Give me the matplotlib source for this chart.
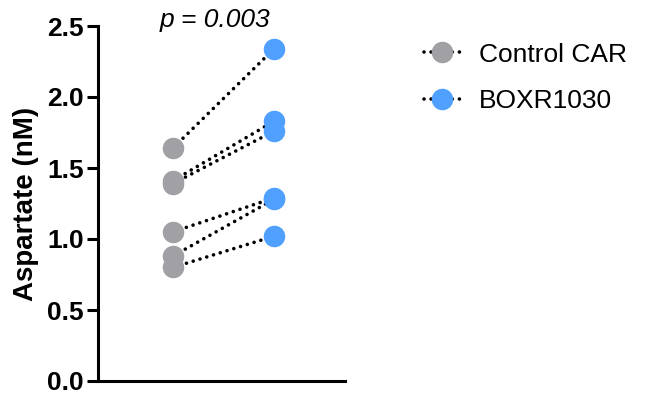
import matplotlib
matplotlib.use("Agg")
import matplotlib.pyplot as plt
from matplotlib.lines import Line2D

plt.rcParams['font.family'] = ['Liberation Sans', 'DejaVu Sans']

groups = ["Control CAR", "BOXR1030"]
control = [1.64, 1.41, 1.39, 1.05, 0.88, 0.80]
boxr = [2.34, 1.83, 1.76, 1.29, 1.28, 1.02]
y_ticks = [0.0, 0.5, 1.0, 1.5, 2.0, 2.5]
p_text = "p = 0.003"

gray = "#A0A0A5"
blue = "#4FA0FF"
dots = (0, (0.01, 1.95))

fig = plt.figure(figsize=(6.49, 3.96), dpi=100)
ax = fig.add_axes([98 / 649, 1 - 381 / 396, (345 - 98) / 649, (381 - 26) / 396])

for c, b in zip(control, boxr):
    ax.plot([0, 1], [c, b], color="black", lw=2.6, linestyle=dots,
            dash_capstyle="round", zorder=1)

ax.plot([0] * len(control), control, "o", ms=15.5, color=gray, mec="none", zorder=3)
ax.plot([1] * len(boxr), boxr, "o", ms=15.5, color=blue, mec="none", zorder=3)

ax.set_xlim(-0.74, 1.70)
ax.set_ylim(0, 2.5)
ax.set_yticks(y_ticks)
ax.set_yticklabels([f"{v:.1f}" for v in y_ticks], fontsize=19, fontweight="bold")
ax.set_xticks([])
ax.tick_params(axis="y", length=8, width=2.2, pad=2)
for s in ["top", "right"]:
    ax.spines[s].set_visible(False)
for s in ["left", "bottom"]:
    ax.spines[s].set_linewidth(2.2)
ax.set_ylabel("Aspartate (nM)", fontsize=20, fontweight="bold", labelpad=6)

fig.text(215 / 649, 1 - 20 / 396, p_text, fontsize=19, style="italic",
         ha="center", va="center")

handles = [
    Line2D([0], [0], marker="o", ms=15.5, color="black", mfc=gray, mec="none",
           lw=2.6, linestyle=dots, dash_capstyle="round"),
    Line2D([0], [0], marker="o", ms=15.5, color="black", mfc=blue, mec="none",
           lw=2.6, linestyle=dots, dash_capstyle="round"),
]
fig.legend(handles, groups, loc="upper left", bbox_to_anchor=(413 / 649, 1 - 32 / 396),
           frameon=False, fontsize=19, handlelength=1.4, handletextpad=0.7,
           labelspacing=0.85, borderaxespad=0)

fig.savefig("out.png", dpi=100)
